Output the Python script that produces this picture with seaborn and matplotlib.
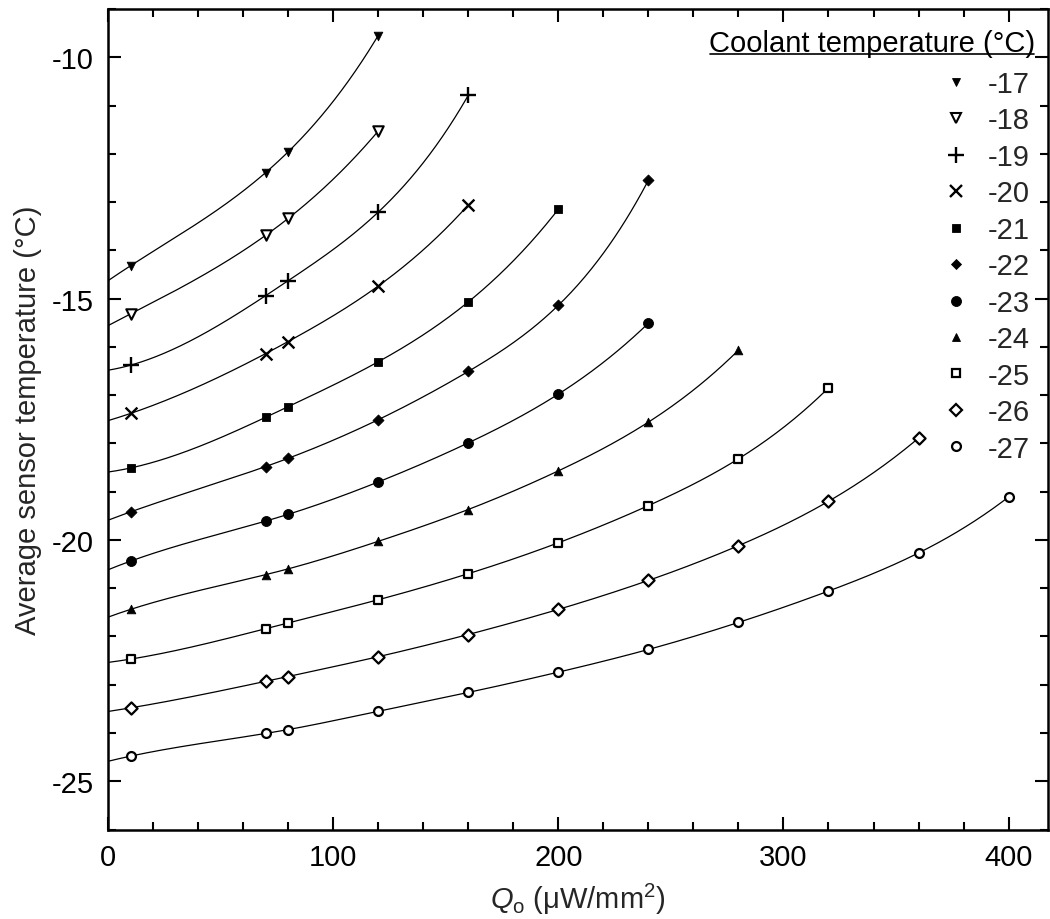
import numpy as np
import pandas as pd
import matplotlib
matplotlib.use("Agg")
import matplotlib.pyplot as plt
import seaborn as sns
from matplotlib.lines import Line2D
from matplotlib.ticker import MultipleLocator

# ---------------- data ----------------
coolant_temps = [-17, -18, -19, -20, -21, -22, -23, -24, -25, -26, -27]
q_points = [10, 70, 80, 120, 160, 200, 240, 280, 320, 360, 400]

t_m17 = [-14.32, -12.39, -11.96, -9.55]
t_m18 = [-15.32, -13.69, -13.34, -11.53]
t_m19 = [-16.38, -14.94, -14.63, -13.21, -10.79]
t_m20 = [-17.38, -16.14, -15.89, -14.74, -13.06]
t_m21 = [-18.51, -17.46, -17.24, -16.31, -15.07, -13.15]
t_m22 = [-19.42, -18.48, -18.31, -17.51, -16.51, -15.14, -12.55]
t_m23 = [-20.44, -19.61, -19.47, -18.80, -17.99, -16.98, -15.51]
t_m24 = [-21.44, -20.72, -20.60, -20.03, -19.37, -18.57, -17.56, -16.07]
t_m25 = [-22.47, -21.84, -21.72, -21.24, -20.70, -20.06, -19.29, -18.32, -16.85]
t_m26 = [-23.48, -22.93, -22.83, -22.42, -21.96, -21.44, -20.84, -20.12, -19.20, -17.89]
t_m27 = [-24.48, -24.01, -23.93, -23.55, -23.16, -22.74, -22.27, -21.71, -21.06, -20.27, -19.11]

series_values = [t_m17, t_m18, t_m19, t_m20, t_m21, t_m22, t_m23, t_m24, t_m25, t_m26, t_m27]

legend_title = "Coolant temperature (°C)"
x_label = r"$Q_{\mathrm{o}}$ ($\mathrm{\mu}$W/mm$^{2}$)"
y_label = "Average sensor temperature (°C)"

# marker styles: (marker, size_pt, kind, edge width)
styles = [
    ("v", 6.2, "full", 0.6),
    ("v", 7.5, "open", 1.5),
    ("+", 11.0, "line", 1.7),
    ("x", 8.5, "line", 1.7),
    ("s", 6.4, "full", 0.6),
    ("D", 5.6, "full", 0.6),
    ("o", 7.2, "full", 0.6),
    ("^", 6.2, "full", 0.6),
    ("s", 6.0, "open", 1.6),
    ("D", 6.2, "open", 1.6),
    ("o", 6.4, "open", 1.6),
]

# ---------------- style ----------------
sns.set_theme(style="ticks")
FS = 21
plt.rcParams["font.family"] = ["Liberation Sans", "DejaVu Sans"]
plt.rcParams["mathtext.fontset"] = "custom"
plt.rcParams["mathtext.rm"] = "Liberation Sans"
plt.rcParams["mathtext.it"] = "Liberation Sans:italic"
plt.rcParams["mathtext.bf"] = "Liberation Sans:bold"
plt.rcParams["axes.unicode_minus"] = False

W, H = 1050, 920
fig = plt.figure(figsize=(W / 100, H / 100), dpi=100)
ax = fig.add_axes([108 / W, 1 - 830.5 / H, (1048 - 108) / W, (830.5 - 10) / H])


def spline(x, y):
    """cubic interpolating spline with not-a-knot end conditions"""
    x = np.asarray(x, float)
    y = np.asarray(y, float)
    n = len(x)
    h = np.diff(x)
    A = np.zeros((n, n))
    r = np.zeros(n)
    for i in range(1, n - 1):
        A[i, i - 1] = h[i - 1]
        A[i, i] = 2 * (h[i - 1] + h[i])
        A[i, i + 1] = h[i]
        r[i] = 6 * ((y[i + 1] - y[i]) / h[i] - (y[i] - y[i - 1]) / h[i - 1])
    A[0, 0] = 1 / h[0]
    A[0, 1] = -(1 / h[0] + 1 / h[1])
    A[0, 2] = 1 / h[1]
    A[-1, -3] = 1 / h[-2]
    A[-1, -2] = -(1 / h[-2] + 1 / h[-1])
    A[-1, -1] = 1 / h[-1]
    M = np.linalg.solve(A, r)

    def f(xx):
        xx = np.asarray(xx, float)
        i = np.clip(np.searchsorted(x, xx) - 1, 0, n - 2)
        hi = h[i]
        a = x[i + 1] - xx
        b = xx - x[i]
        return (M[i] * a ** 3 / (6 * hi) + M[i + 1] * b ** 3 / (6 * hi)
                + (y[i] / hi - M[i] * hi / 6) * a + (y[i + 1] / hi - M[i + 1] * hi / 6) * b)
    return f


handles = []
for temp, vals, (mk, ms, kind, mew) in zip(coolant_temps, series_values, styles):
    xs = q_points[: len(vals)]
    f = spline(xs, vals)
    xx = np.linspace(0, xs[-1], 400)
    curve = pd.DataFrame({"q": xx, "t": f(xx)})
    sns.lineplot(data=curve, x="q", y="t", ax=ax, color="black", linewidth=0.9,
                 sort=False, zorder=2)
    pts = pd.DataFrame({"q": xs, "t": vals})
    if kind == "full":
        sns.scatterplot(data=pts, x="q", y="t", ax=ax, marker=mk, s=ms ** 2,
                        color="black", edgecolor="black", linewidth=mew, zorder=3)
        h = Line2D([], [], ls="none", marker=mk, ms=ms, mfc="black", mec="black", mew=mew)
    elif kind == "open":
        sns.scatterplot(data=pts, x="q", y="t", ax=ax, marker=mk, s=ms ** 2,
                        color="white", edgecolor="black", linewidth=mew, zorder=3)
        h = Line2D([], [], ls="none", marker=mk, ms=ms, mfc="white", mec="black", mew=mew)
    else:
        sns.scatterplot(data=pts, x="q", y="t", ax=ax, marker=mk, s=ms ** 2,
                        color="black", linewidth=mew, zorder=3)
        h = Line2D([], [], ls="none", marker=mk, ms=ms, color="black", mew=mew)
    handles.append(h)

labels = [str(t) for t in coolant_temps]

ax.set_xlim(0, 417.5)
ax.set_ylim(-26, -9)
ax.xaxis.set_major_locator(MultipleLocator(100))
ax.xaxis.set_minor_locator(MultipleLocator(20))
ax.yaxis.set_major_locator(MultipleLocator(5))
ax.yaxis.set_minor_locator(MultipleLocator(1))
ax.tick_params(which="both", direction="in", top=True, right=True, width=1.5,
               colors="black", labelsize=FS, pad=10)
ax.tick_params(which="major", length=9.5)
ax.tick_params(which="minor", length=6)
for sp in ax.spines.values():
    sp.set_linewidth(1.8)
    sp.set_color("black")
    sp.set_visible(True)

ax.set_xlabel(x_label, fontsize=FS, labelpad=7)
ax.set_ylabel(y_label, fontsize=FS, labelpad=7)
ax.set_facecolor("white")

# legend entries (no title; title drawn separately so it can be underlined)
leg = ax.legend(handles, labels, loc="upper left",
                bbox_to_anchor=(944 / W, 1 - 71 / H), bbox_transform=fig.transFigure,
                frameon=False, fontsize=FS, handlelength=0.8, handletextpad=0.7,
                labelspacing=0.29, borderaxespad=0.0, borderpad=0.0)

# legend title, right aligned, underlined
ttl = fig.text(1035 / W, 1 - 52 / H, legend_title, fontsize=FS, ha="right",
               va="baseline", color="black")
fig.canvas.draw()
renderer = fig.canvas.get_renderer()
bb = ttl.get_window_extent(renderer)
inv = fig.transFigure.inverted()
yl = H - 55.5
(x0, y0) = inv.transform((bb.x0 + 1, yl))
(x1, _) = inv.transform((bb.x1 - 1, yl))
fig.add_artist(Line2D([x0, x1], [y0, y0], transform=fig.transFigure,
                      color="black", linewidth=1.2))

fig.savefig("out.png", dpi=100, facecolor="white")
